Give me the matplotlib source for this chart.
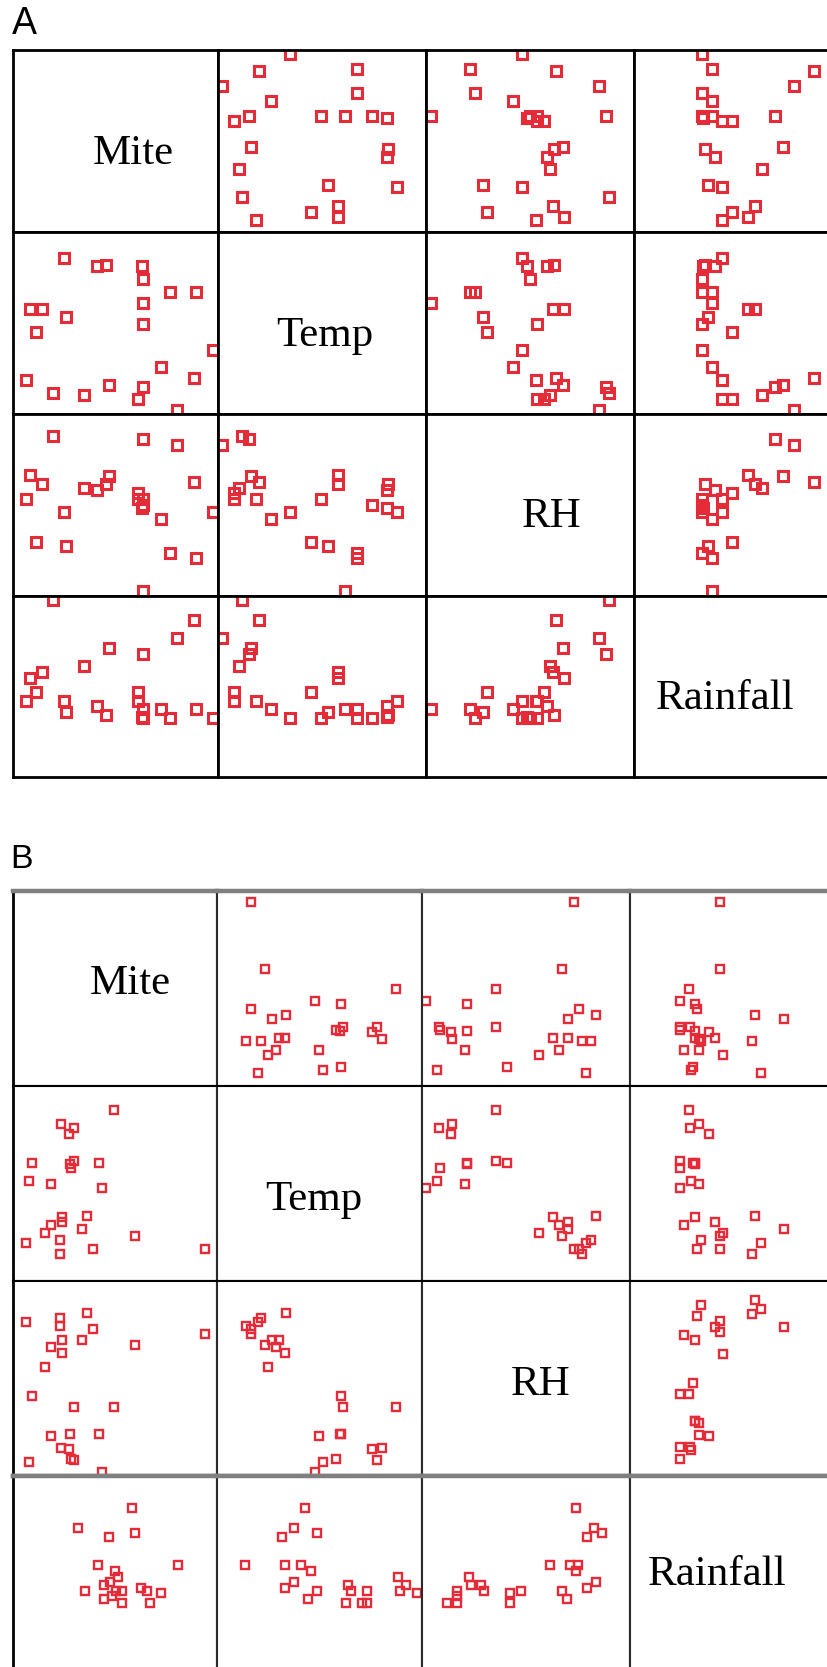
import matplotlib.pyplot as plt
import numpy as np

nan = np.nan

# ---------------- panel A: one row per observation, values in % of axis range
labels = ["Mite", "Temp", "RH", "Rainfall"]

mite_a = [97.6, 89.4, 88.5, 80.3, 76.6, 72.2, 63.8, 63.8, 63.8, 63.8, 62.9, 61.2,
          61.2, 46.8, 45.7, 41.1, 34.7, 25.9, 25.0, 19.5, 14.3, 11.3, 8.4, 6.7]
temp_a = [35.0, 67.2, 19.7, 2.1, 67.2, 25.6, 61.2, 15.0, 49.6, 74.3, 81.3, 8.0,
          8.0, 16.1, 82.0, 81.3, 10.3, 53.2, 86.1, 11.5, 57.8, 45.0, 57.8, 18.6]
rh_a = [46.0, 21.0, 62.7, 83.2, 23.6, 42.0, 2.4, 86.4, 53.2, 50.0, 48.4, 53.2,
        56.6, 65.9, 61.3, 58.0, 59.4, 27.6, 46.0, 88.0, 61.2, 29.3, 66.4, 53.1]
rain_a = [32.4, 37.2, 86.5, 76.9, 32.4, 37.2, 37.2, 67.6, 32.4, 32.4, 33.0, 42.0,
          46.8, 71.3, 34.1, 38.8, 61.2, 35.6, 42.0, 97.6, 57.9, 46.8, 54.8, 42.0]

# ---------------- panel B
mite_b = [94.2, 59.9, 49.7, 43.7, 42.1, 39.4, 36.3, 34.1, 30.2, 30.2, 28.6, 27.4,
          28.0, 23.8, 24.3, 24.3, 23.1, 23.1, 18.5, 18.5, 15.6, 9.6, 8.2, 6.7]
temp_b = [16.5, 23.3, 87.4, 47.9, 60.6, 16.5, 33.4, 26.9, 78.2, 61.5, 57.8, 75.4,
          59.8, 80.6, 33.0, 30.3, 21.2, 14.0, 49.8, 28.7, 24.9, 60.6, 51.5, 19.7]
rh_b = [73.0, 67.3, 35.5, 2.1, 21.5, 75.6, 83.9, 70.1, 8.2, 35.5, 8.5, 14.1,
        21.5, 14.4, 63.2, 70.1, 81.2, 76.9, 20.8, 66.0, 56.2, 41.1, 7.1, 79.1]
rain_b = [43.7, 43.7, 28.6, 24.4, 31.3, 32.6, 60.4, 74.2, 28.9, 24.4, 24.4, 38.2,
          31.3, 33.4, 31.3, 41.0, 34.2, 58.9, 33.4, 26.2, 45.1, 30.5, 29.6, 63.1]

# bottom (Rainfall) row of B does not match the other rows, read on its own
# (nan = point not visible in that panel)
rain_b4 = [83.7, 73.5, 70.6, 68.9, 54.4, 54.4, 54.4, 51.4, 48.4, 45.8, 44.1, 44.1,
           42.6, 41.0, 41.0, 41.0, 41.0, 39.8, 38.5, 36.8, 35.0, 35.0, 35.0]
mite_b4 = [58.5, 31.7, 59.9, 46.9, 41.5, 80.8, nan, 49.9, 51.5, 47.5, 44.5, nan,
           62.5, 35.1, 53.5, 65.8, 50.5, 72.4, 48.5, 44.5, 53.5, 66.9, nan]
temp_b4 = [42.9, 37.3, 48.5, 31.7, 13.4, 33.3, 40.7, 45.7, 88.2, 37.3, 63.9, 92.2,
           33.3, 48.5, 65.3, 73.2, 89.2, 97.5, nan, 44.3, 62.9, 73.2, 70.6]
rh_b4 = [74.3, 82.8, 86.5, 79.6, 61.5, 71.4, 75.3, 74.1, 22.6, 84.0, 23.6, 28.5,
         79.6, 67.5, 47.8, 29.9, 16.7, 42.3, 16.7, 69.8, 42.3, 11.8, 16.7]

RED = "#e52a38"
W, H = 828, 1667
fig = plt.figure(figsize=(W / 100, H / 100), dpi=100)


def matrix(xe, ye, pairs, ms, mew, lw, lab_pos):
    axs = {}
    for i in range(4):
        for j in range(4):
            ax = fig.add_axes([xe[j] / W, 1 - ye[i + 1] / H,
                               (xe[j + 1] - xe[j]) / W, (ye[i + 1] - ye[i]) / H])
            ax.set_xlim(0, 100)
            ax.set_ylim(0, 100)
            ax.set_xticks([])
            ax.set_yticks([])
            for s in ax.spines.values():
                s.set_linewidth(lw)
                s.set_color("black")
            if i == j:
                px, py = lab_pos[i]
                ax.text(px, py, labels[i], transform=ax.transAxes, ha="center",
                        va="baseline", fontsize=31, family="Liberation Serif")
            else:
                x, y = pairs[i][j]
                ax.plot(x, y, "s", ls="none", mfc="none", mec=RED, ms=ms, mew=mew)
            axs[i, j] = ax
    return axs


# panel A
va = [mite_a, temp_a, rh_a, rain_a]
pairs_a = [[(va[j], va[i]) for j in range(4)] for i in range(4)]
xe_a = [12.7, 217.7, 425.7, 634.3, 842.3]
ye_a = [50, 232.3, 414, 595.7, 776.7]
lab_a = [(0.587, 0.375), (0.516, 0.374), (0.605, 0.376), (0.436, 0.372)]
matrix(xe_a, ye_a, pairs_a, 7.0, 2.2, 2.0, lab_a)

# panel B
vb = [mite_b, temp_b, rh_b, rain_b]
vb4 = [mite_b4, temp_b4, rh_b4]
pairs_b = [[(vb[j], vb[i]) for j in range(4)] for i in range(3)]
pairs_b.append([(vb4[j], rain_b4) for j in range(3)] + [None])
xe_b = [12.7, 217.3, 422, 629.7, 837.2]
ye_b = [891, 1085.7, 1281.3, 1476, 1671]
lab_b = [(0.573, 0.471), (0.469, 0.365), (0.571, 0.418), (0.423, 0.44)]
axb = matrix(xe_b, ye_b, pairs_b, 6.3, 1.7, 1.5, lab_b)
# the RH axis of the RH/Rainfall panel sits a little higher in the original
axb[2, 3].set_ylim(-6.5, 93.5)
for i in range(4):
    for j in range(4):
        axb[i, j].spines["left"].set_color("#2a2a2a")
        axb[i, j].spines["right"].set_color("#2a2a2a")
for j in range(4):
    axb[0, j].spines["top"].set_color("#808080")
    axb[0, j].spines["top"].set_linewidth(3.2)
    axb[2, j].spines["bottom"].set_color("#808080")
    axb[2, j].spines["bottom"].set_linewidth(3.2)
    axb[3, j].spines["top"].set_color("#808080")
    axb[3, j].spines["top"].set_linewidth(3.2)
for i in range(4):
    axb[i, 0].spines["left"].set_linewidth(2.0)
    axb[i, 0].spines["left"].set_color("black")

fig.text(11.7 / W, 1 - 34.3 / H, "A", ha="left", va="baseline", fontsize=27,
         family="Liberation Sans")
fig.text(10.0 / W, 1 - 867.7 / H, "B", ha="left", va="baseline", fontsize=24.5,
         family="Liberation Sans")

fig.savefig("out.png", dpi=100)
